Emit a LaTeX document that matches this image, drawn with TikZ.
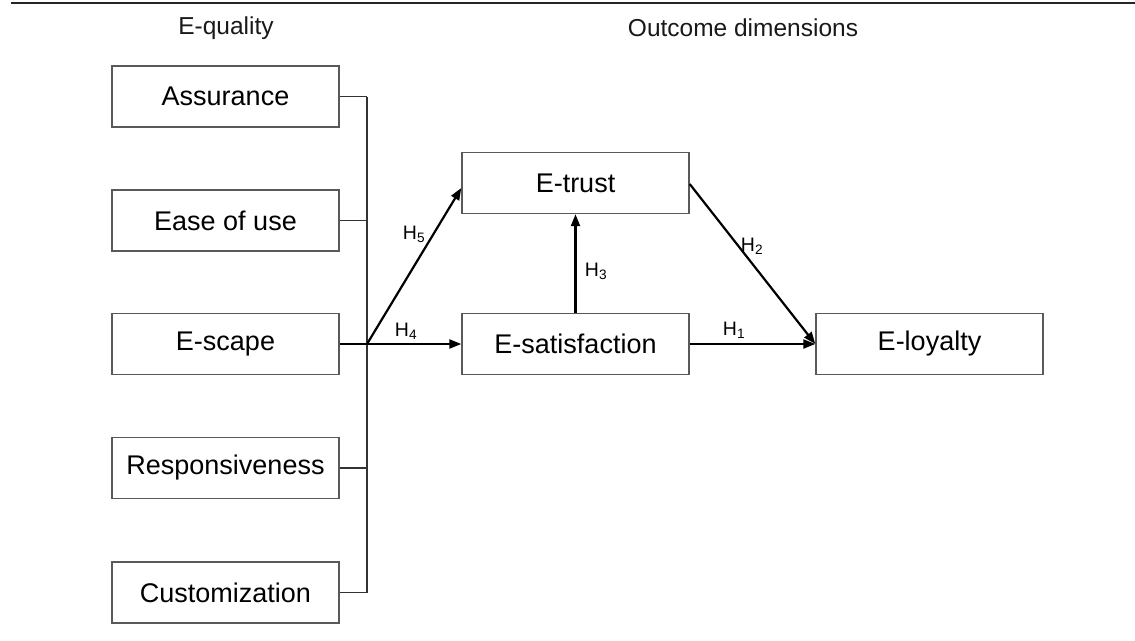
\documentclass[tikz,border=0pt]{standalone}
\usepackage{fontspec}
\setmainfont{Liberation Sans}
\usetikzlibrary{arrows.meta,calc}
\begin{document}
\begin{tikzpicture}[x=1pt,y=-1pt,
  box/.style={draw=black!65,line width=1.4pt,minimum width=227pt,minimum height=61pt,inner sep=0pt,font=\fontsize{27}{30}\selectfont,text=black},
  head/.style={font=\fontsize{24.5}{28}\selectfont,text=black!90},
  hlab/.style={font=\fontsize{19.5}{22}\selectfont,inner sep=0pt},
  bus/.style={draw=black!80,line width=1.2pt},
  arr/.style={draw=black,line width=2.2pt,-{Triangle[length=12pt,width=9pt]}},
  thick2/.style={draw=black,line width=2.2pt}]
\useasboundingbox (0,0) rectangle (1135,640);
\coordinate (ruleL) at (11,3);
\coordinate (ruleR) at (1135,3);
\draw[black!85,line width=1.8pt] (ruleL) -- (ruleR);
\node[head] (hq) at (226,28) {E-quality};
\node[head] (ho) at (743,28) {Outcome dimensions};
\node[box] (ass) at (225.5,96.5) {Assurance};
\node[box] (eou) at (225.5,220.5) {Ease of use};
\node[box] (esc) at (225.5,344) {E-scape};
\node[box] (res) at (225.5,468) {Responsiveness};
\node[box] (cus) at (225.5,592.5) {Customization};
\node[box] (etr) at (575.5,183) {E-trust};
\node[box] (esa) at (575.5,344) {E-satisfaction};
\node[box] (elo) at (929.5,344) {E-loyalty};
\coordinate (btop) at (367,96.5);
\coordinate (bbot) at (367,592.5);
\coordinate (J) at (367,344);
\draw[bus] (btop) -- (bbot);
\draw[bus] (ass.east) -- (btop);
\draw[bus] (eou.east) -- (eou.east -| J);
\draw[bus] (res.east) -- (res.east -| J);
\draw[bus] (cus.east) -- (bbot);
\draw[thick2] (esc.east) -- (J);
\draw[arr] (J) -- (esa.west);
\draw[arr] (J) -- ($(etr.west)+(0,5)$);
\draw[arr] (esa.north) -- (etr.south);
\draw[arr] (esa.east) -- (elo.west);
\draw[arr] ($(etr.east)+(0,1)$) -- (elo.west);
\node[hlab] (h5) at (414,234) {H\textsubscript{5}};
\node[hlab] (h4) at (406,331) {H\textsubscript{4}};
\node[hlab] (h3) at (596,271) {H\textsubscript{3}};
\node[hlab] (h2) at (752,246) {H\textsubscript{2}};
\node[hlab] (h1) at (734,330) {H\textsubscript{1}};
\end{tikzpicture}
\end{document}
